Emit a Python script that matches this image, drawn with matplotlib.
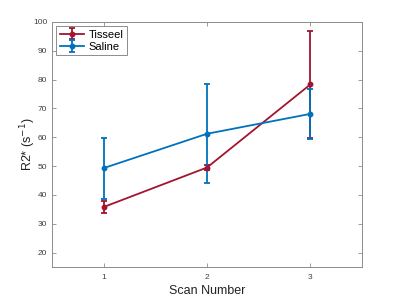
import numpy as np
import matplotlib.pyplot as plt

plt.rcParams['font.family'] = ['Liberation Sans', 'DejaVu Sans']

scans = [1, 2, 3]
tisseel_mean = [35.8, 49.5, 78.3]
tisseel_err = [2.0, 0.8, 18.6]
saline_mean = [49.3, 61.2, 68.1]
saline_err = [10.6, 17.2, 8.6]

red = '#A2142F'
blue = '#0072BD'
axis_gray = '#8c8c8c'

fig = plt.figure(figsize=(4, 3), dpi=100)
ax = fig.add_axes([0.13, 0.11, 0.775, 0.817])

ax.errorbar(scans, tisseel_mean, yerr=tisseel_err, color=red, lw=1.3,
            marker='o', ms=3.2, capsize=2, capthick=1.3, label='Tisseel')
ax.errorbar(scans, saline_mean, yerr=saline_err, color=blue, lw=1.3,
            marker='o', ms=3.2, capsize=2, capthick=1.3, label='Saline')

ax.set_xlim(0.5, 3.5)
ax.set_ylim(15, 100)
ax.set_xticks(scans)
ax.set_yticks(np.arange(20, 101, 10))

ax.tick_params(direction='in', length=3, width=0.6, colors=axis_gray,
               labelcolor='#404040', labelsize=6, top=True, right=True)
ax.tick_params(axis='x', pad=5)
for s in ax.spines.values():
    s.set_color(axis_gray)
    s.set_linewidth(0.7)

ax.set_xlabel('Scan Number', fontsize=9, color='#222222', labelpad=3)
ax.set_ylabel('R2* (s$^{-1}$)', fontsize=9, color='#222222')
ax.yaxis.set_label_coords(-0.045, 0.5)

leg = ax.legend(loc='upper left', fontsize=8, fancybox=False, framealpha=1,
                edgecolor=axis_gray, handlelength=2.2, borderpad=0.3,
                labelspacing=0.2, handletextpad=0.4, borderaxespad=0.4)
leg.get_frame().set_linewidth(0.7)

fig.savefig('out.png', dpi=100)
